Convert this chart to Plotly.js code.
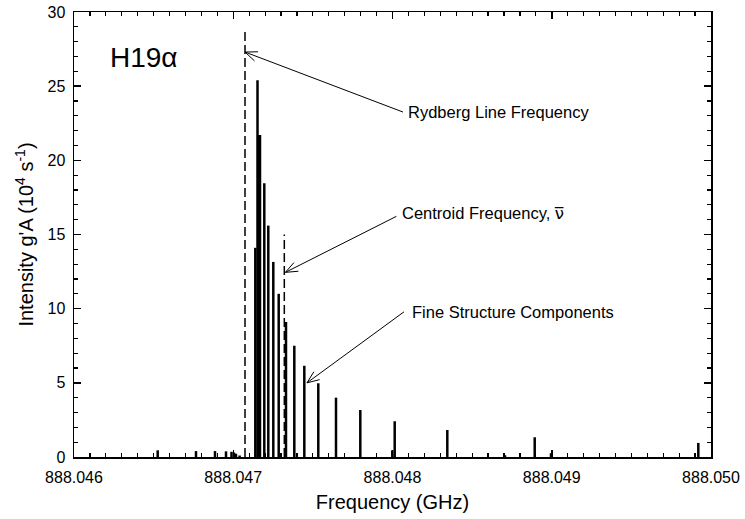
<!DOCTYPE html>
<html>
<head>
<meta charset="utf-8">
<script src="https://cdn.plot.ly/plotly-3.0.1.min.js"></script>
<style>html,body{margin:0;padding:0;background:#fff;}#chart{width:745px;height:519px;}</style>
</head>
<body>
<div id="chart"></div>
<script>
// Fine structure component frequencies (GHz) and intensities g'A (10^4 s^-1)
const componentFreq = [
  888.0465256, 888.046766, 888.0468854, 888.0469545, 888.046989, 888.0470047, 888.047017, 888.047040,
  888.0471385, 888.0471523, 888.047160, 888.047168, 888.047195, 888.047220, 888.0472515, 888.0472854,
  888.0473312, 888.0473834, 888.0474462, 888.047534, 888.0476452, 888.0477978,
  888.0479987, 888.0480138, 888.0483441, 888.0487064, 888.048893, 888.0489953, 888.0499203
];
const componentIntensity = [
  0.45, 0.4, 0.4, 0.38, 0.35, 0.3, 0.22, 0.1,
  14.1, 25.4, 21.7, 21.7, 18.45, 15.6, 13.15, 11.0,
  9.1, 7.5, 6.15, 4.97, 4.0, 3.17,
  0.45, 2.41, 1.82, 0.12, 1.33, 0.25, 0.95
];
// Reference lines
const rydbergFreq = 888.0470738;
const rydbergHeight = 28.75;
const centroidFreq = 888.0473206;
const centroidHeight = 15.0;
// Axis ticks
const xTickVals = [888.046, 888.047, 888.048, 888.049, 888.050];
const yTickVals = [0, 5, 10, 15, 20, 25, 30];

const bx = [], by = [];
componentFreq.forEach((f, i) => { bx.push(f, f, null); by.push(0, componentIntensity[i], null); });

const traces = [
  {x: bx, y: by, type: 'scatter', mode: 'lines', line: {color: '#000', width: 2.5}, hoverinfo: 'skip', showlegend: false},
  {x: [rydbergFreq, rydbergFreq, null, centroidFreq, centroidFreq],
   y: [0, rydbergHeight, null, 0, centroidHeight],
   type: 'scatter', mode: 'lines', line: {color: '#000', width: 1.5, dash: '9px,4px'}, hoverinfo: 'skip', showlegend: false}
];

const L = 74, R = 711, T = 12, B = 457;
const X0 = 888.046, X1 = 888.050, Y0 = 0, Y1 = 30;
const dxPerPx = (X1 - X0) / (R - L);
const dyPerPx = (Y1 - Y0) / (B - T);
const px2paperX = p => (p - L) / (R - L);
const px2paperY = p => (B - p) / (B - T);

const FONT = 'Liberation Sans, Arial, Helvetica, sans-serif';
const annotations = [];
const shapes = [];
function seg(x0, y0, x1, y1) {
  shapes.push({type: 'line', xref: 'x', yref: 'y', x0: x0, y0: y0, x1: x1, y1: y1,
    line: {color: '#000', width: 1}});
}
// arrow from tip (data coords) toward a tail offset in pixels (dx right, dy down)
function arrow(xd, yd, axp, ayp) {
  seg(xd, yd, xd + axp * dxPerPx, yd - ayp * dyPerPx);
  const len = Math.hypot(axp, ayp);
  const ux = axp / len, uy = ayp / len;
  const ang = 22 * Math.PI / 180, hl = 13;
  [ang, -ang].forEach(a => {
    const hx = (ux * Math.cos(a) - uy * Math.sin(a)) * hl;
    const hy = (ux * Math.sin(a) + uy * Math.cos(a)) * hl;
    seg(xd, yd, xd + hx * dxPerPx, yd - hy * dyPerPx);
  });
}
function label(text, pxX, pxY, size) {
  annotations.push({x: px2paperX(pxX), y: px2paperY(pxY), xref: 'paper', yref: 'paper', text: text,
    showarrow: false, xanchor: 'left', yanchor: 'middle', font: {family: FONT, size: size, color: '#000'}});
}

arrow(rydbergFreq, 27.3, 158, 60);
arrow(centroidFreq + 0.000007, 12.45, 111, -56);
arrow(888.047463, 5.0, 97, -71);

label('Rydberg Line Frequency', 406, 112, 16.5);
label('Centroid Frequency, <span style="font-family:DejaVu Sans">\u03BD\u0305</span>', 400, 214, 16.5);
label('Fine Structure Components', 410, 312, 16.5);
label('H19\u03B1', 108, 57, 28);

const axisCommon = {
  showline: true, linecolor: '#000', linewidth: 1.5, mirror: 'ticks', ticks: 'inside', ticklen: 7,
  tickwidth: 1.5, tickcolor: '#000', showgrid: false, zeroline: false,
  tickfont: {family: FONT, size: 16, color: '#000'}
};

const layout = {
  width: 745, height: 519,
  margin: {l: L, r: 745 - R, t: T, b: 519 - B},
  paper_bgcolor: '#fff', plot_bgcolor: '#fff',
  font: {family: FONT, color: '#000'},
  xaxis: Object.assign({}, axisCommon, {
    range: [X0, X1], tickmode: 'array', tickvals: xTickVals,
    ticktext: xTickVals.map(v => v.toFixed(3)),
    ticklabelstandoff: 5,
    minor: {ticks: 'inside', dtick: 0.0001, tick0: 888.046, ticklen: 4, tickwidth: 1.2, tickcolor: '#000'},
    title: {text: 'Frequency (GHz)', font: {family: FONT, size: 20, color: '#000'}, standoff: 10}
  }),
  yaxis: Object.assign({}, axisCommon, {
    range: [Y0, Y1], tickmode: 'array', tickvals: yTickVals,
    minor: {ticks: 'inside', dtick: 1, tick0: 0, ticklen: 4, tickwidth: 1.2, tickcolor: '#000'},
    ticklabelstandoff: 4,
    title: {text: "Intensity g'A (10<sup>4</sup> s<sup>-1</sup>)", font: {family: FONT, size: 20, color: '#000'}, standoff: 8}
  }),
  annotations: annotations,
  shapes: shapes,
  showlegend: false
};

Plotly.newPlot('chart', traces, layout, {staticPlot: true, displayModeBar: false});
</script>
</body>
</html>
